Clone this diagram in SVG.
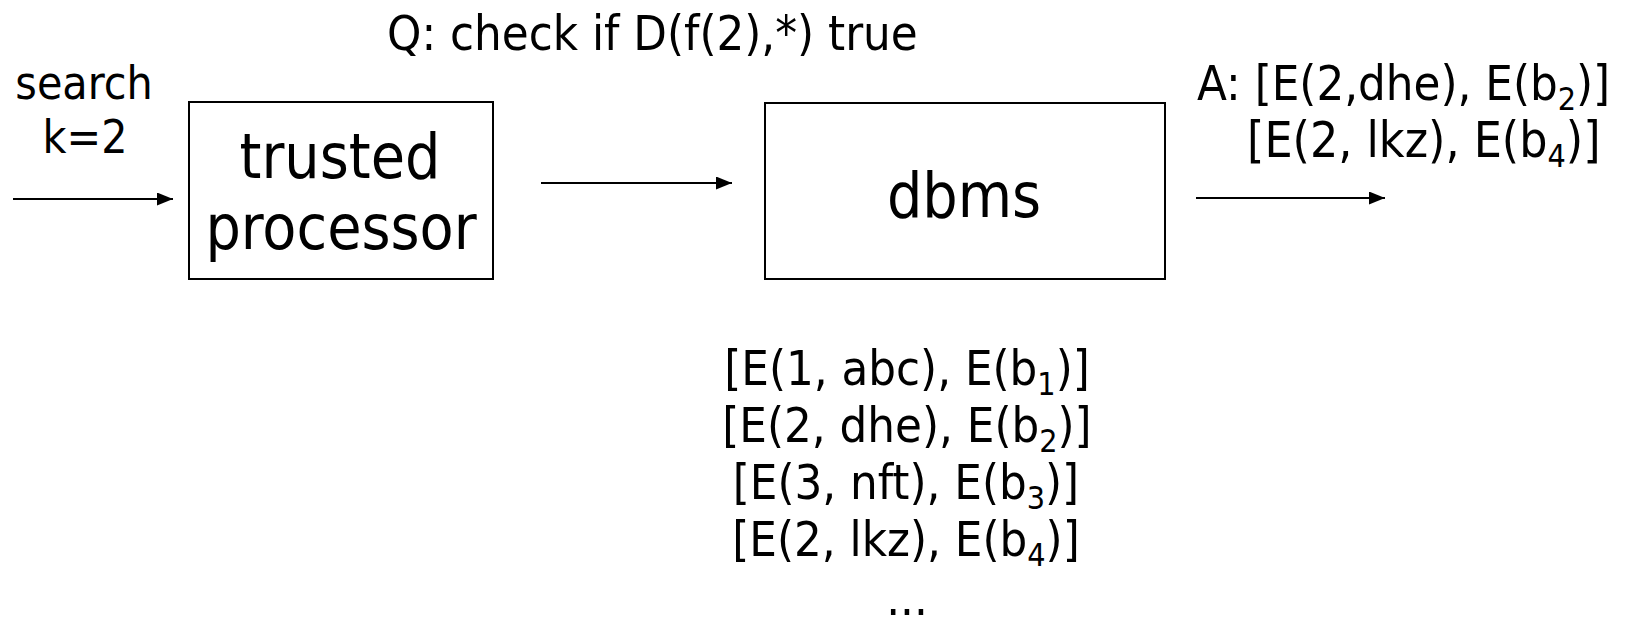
<svg xmlns="http://www.w3.org/2000/svg" width="1630" height="617" viewBox="0 0 1630 617">
<style>
text { font-family: "DejaVu Sans Condensed", "DejaVu Sans", sans-serif; font-stretch: condensed; fill: #000; }
.sm { font-size: 46px; }
.md { font-size: 48.6px; }
.lg { font-size: 62px; }
.sub { font-size: 32px; }
.box { fill: #fff; stroke: #000; stroke-width: 2; }
.conn { stroke: #000; stroke-width: 2; fill: none; marker-end: url(#arr); }
</style>
<defs>
<marker id="arr" markerUnits="userSpaceOnUse" markerWidth="17" markerHeight="14" refX="16" refY="6.5" orient="auto">
<path d="M0,0 L16,6.5 L0,13 Z" fill="#000"/>
</marker>
</defs>
<rect width="1630" height="617" fill="#fff"/>
<g id="connectors">
<line class="conn" x1="13" y1="199" x2="173" y2="199"/>
<line class="conn" x1="541" y1="183" x2="732" y2="183"/>
<line class="conn" x1="1196" y1="198" x2="1385" y2="198"/>
</g>
<g id="label-query">
<text class="md" x="387" y="50">Q: check if D(f(2),*) true</text>
</g>
<g id="label-search">
<text class="sm" x="84" y="99" text-anchor="middle">search</text>
<text class="sm" x="85" y="153" text-anchor="middle">k=2</text>
</g>
<g id="node-trusted">
<rect class="box" x="189" y="102" width="304" height="177"/>
<text class="lg" x="340" y="178" text-anchor="middle">trusted</text>
<text class="lg" x="341" y="249" text-anchor="middle">processor</text>
</g>
<g id="node-dbms">
<rect class="box" x="765" y="103" width="400" height="176"/>
<text class="lg" x="964" y="217" text-anchor="middle">dbms</text>
</g>
<g id="label-answer">
<text class="md" x="1197" y="100">A: [E(2,dhe), E(b<tspan class="sub" dy="10">2</tspan><tspan dy="-10">)]</tspan></text>
<text class="md" x="1247" y="157" style="font-size:49.5px">[E(2, lkz), E(b<tspan class="sub" dy="10">4</tspan><tspan dy="-10">)]</tspan></text>
</g>
<g id="label-table">
<text class="md" x="907" y="385" text-anchor="middle">[E(1, abc), E(b<tspan class="sub" dy="10">1</tspan><tspan dy="-10">)]</tspan></text>
<text class="md" x="907" y="442" text-anchor="middle">[E(2, dhe), E(b<tspan class="sub" dy="10">2</tspan><tspan dy="-10">)]</tspan></text>
<text class="md" x="906" y="499" text-anchor="middle">[E(3, nft), E(b<tspan class="sub" dy="10">3</tspan><tspan dy="-10">)]</tspan></text>
<text class="md" x="906" y="556" text-anchor="middle">[E(2, lkz), E(b<tspan class="sub" dy="10">4</tspan><tspan dy="-10">)]</tspan></text>
<text class="md" x="907" y="615" text-anchor="middle">...</text>
</g>
</svg>
